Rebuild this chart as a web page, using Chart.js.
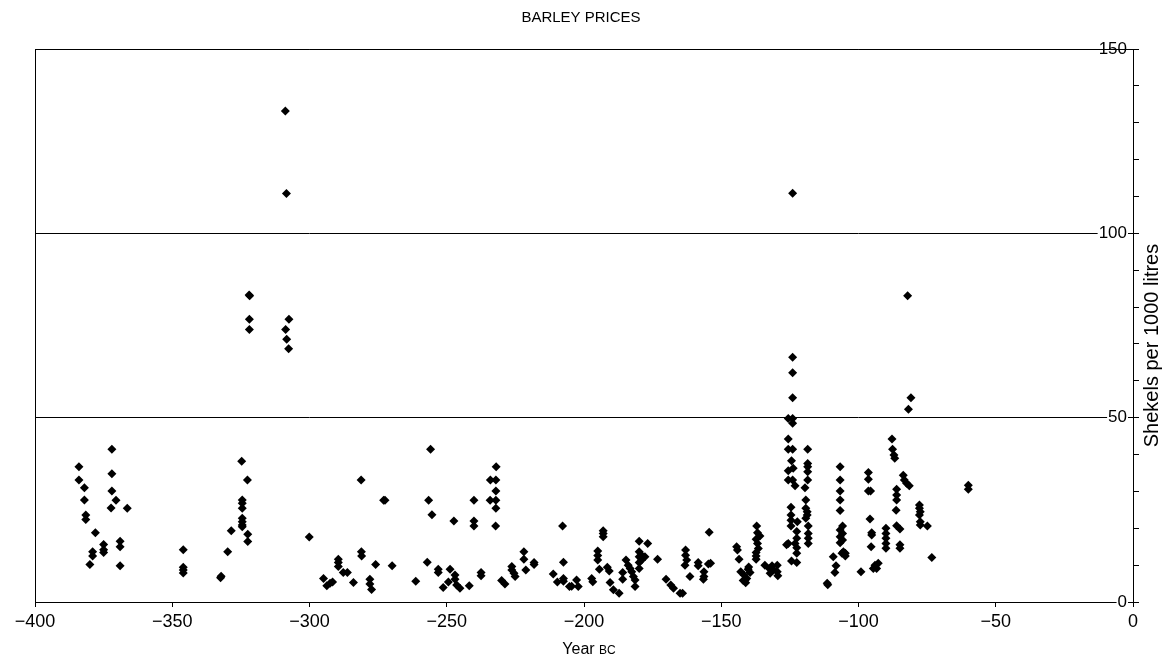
<!DOCTYPE html>
<html>
<head>
<meta charset="utf-8">
<title>Barley prices</title>
<script src="https://cdn.jsdelivr.net/npm/chart.js@4.4.1/dist/chart.umd.min.js"></script>
<style>
  html, body { margin: 0; padding: 0; background: #fff; }
  canvas { display: block; }
</style>
</head>
<body>
<canvas id="chart" width="1162" height="659"></canvas>
<script>
// Barley prices (shekels per 1000 litres), by year BC, grouped by century.
const years4th = [-384,-384,-382,-382,-381.5,-381.5,-378,-379,-379,-380,-375,-375,-375,-372,-372,-372,-370.5,-372.3,-366.4,-369,-369,-369,-346,-346,-346,-346,-332.4,-332.2,-329.8,-328.5,-324.7,-322.6,-324.5,-324.5,-324.5,-324.5,-324.5,-324.5,-324.5,-322.5,-322.5,-321.8,-322,-321.9,-321.9,-308.8,-308.4,-307.5,-308.7,-308.3,-307.6,-300.1];
const prices4th = [36.7,33.1,31.0,27.7,23.6,22.4,18.8,13.6,12.5,10.2,15.6,14.2,13.4,41.4,34.8,30.1,27.6,25.5,25.4,16.5,15.0,9.8,14.2,9.4,8.7,7.9,6.6,7.0,13.6,19.3,38.2,33.1,27.7,26.8,25.4,22.7,21.8,20.9,20.4,18.4,16.4,83.1,83.3,76.7,73.9,133.2,110.8,76.7,73.9,71.3,68.7,17.6];

const years3rd = [-294.9,-293.7,-292.5,-291.6,-289.5,-289.5,-289.5,-287.7,-286.2,-284,-281.2,-281.1,-281,-278,-278,-277.4,-275.9,-273,-272.5,-269.9,-261.3,-255.9,-256.6,-255.4,-257.1,-253.1,-253.1,-251.3,-249.4,-248.8,-247,-247,-246.4,-245.2,-247.4,-241.8,-240.1,-240.1,-240.1,-237.5,-237.5,-234.1,-232.1,-232,-232.1,-234.2,-232.1,-232.1,-232.2,-230,-228.8,-226.3,-226.3,-225.5,-225.1,-221.9,-221.9,-221.2,-218.2,-218.2,-211.2,-209.7,-207.8,-207.5,-207.5,-207.5,-205.3,-204.5,-202.7,-202.1];
const prices3rd = [6.4,4.4,5.1,5.4,11.6,10.7,9.6,8.0,8.0,5.3,33.1,13.6,12.5,6.2,4.9,3.4,10.2,27.6,27.6,9.8,5.6,41.4,27.6,23.7,10.8,8.9,8.0,3.9,5.4,8.9,7.3,6.2,4.6,3.7,22.0,4.4,27.6,22.0,20.6,8.0,7.1,33.1,33.1,36.7,30.1,27.6,27.6,25.4,20.6,5.8,4.9,9.6,8.7,7.8,6.9,13.6,11.6,8.7,10.7,10.2,7.6,5.4,20.6,10.8,6.4,5.6,4.2,4.3,6.0,4.2];

const years2nd = [-197.2,-196.8,-195,-195,-195,-194.4,-193,-193,-193,-191.5,-190.8,-190.5,-189.3,-187.2,-185.9,-185.9,-184.7,-183.9,-183.2,-182.6,-182,-181.4,-181.4,-179.9,-179.9,-179.9,-179.9,-179.9,-179,-179,-177.8,-176.8,-173.2,-170.1,-168.4,-167.4,-165,-164.1,-163,-163,-162.6,-163.2,-161.4,-158.4,-158.4,-156.3,-156.3,-156.5,-154.7,-153.9,-154.4,
  -144.4,-144.1,-143.5,-142.9,-141.7,-140.7,-141.1,-140.2,-139.5,-141.3,-140,-142,
  -137.1,-136.8,-135.9,-137.3,-136.8,-137.3,-137.3,-137.3,-136.5,
  -134.1,-132.5,-132.2,-131,-129.6,-129.6,-129.4,-131.5,
  -124,-124,-124,-124,-125.6,-124,-124,-125.6,-125.6,-124,-124.4,-125.6,-123.8,-125.6,-124,-123.1,-124.6,-124.6,-124.6,-124.6,-122.3,-122.5,-122.5,-123.1,-125.6,-126.2,-122.5,-122.5,-124.4,-122.5,
  -118.5,-118.5,-118.5,-118.5,-118.5,-119.5,-119.2,-119.2,-118.7,-118.7,-119.2,-118.3,-118.3,-118.3,-118.3,
  -111.4,-111.2,-109.2,-108.2,-108.6,
  -106.7,-106.7,-106.7,-106.7,-106.7,-105.8,-106.7,-105.8,-106.7,-105.8,-106.7,-105.5,-104.8,-106,-104.8];
const prices2nd = [6.4,5.5,13.8,12.6,11.4,8.9,19.3,18.6,17.7,9.4,8.4,5.3,3.3,2.4,8.0,6.2,11.4,10.0,9.1,8.2,6.9,6.0,4.2,16.5,13.6,12.3,10.7,9.1,12.7,11.4,12.3,15.9,11.6,6.2,4.6,3.7,2.4,2.4,14.1,12.7,11.4,10.0,6.9,10.7,9.8,8.2,6.9,6.2,10.3,10.5,18.9,
  15.0,14.1,11.6,8.2,7.3,6.4,5.2,8.9,8.0,6.0,9.5,5.8,
  20.6,18.8,17.9,17.0,15.9,13.4,12.5,11.6,14.5,
  10.0,9.1,7.8,8.7,10.0,8.2,7.1,9.8,
  110.9,66.4,62.2,55.4,49.8,49.8,48.5,44.2,41.4,41.4,38.3,35.6,36.3,33.1,33.1,31.5,25.7,23.6,22.2,20.6,21.8,19.1,17.3,15.9,15.9,15.5,14.7,13.2,11.1,10.7,
  41.4,37.6,36.7,35.3,33.1,31.0,27.7,25.4,24.5,23.6,22.7,20.6,18.6,17.3,15.9,
  5.1,4.7,12.3,9.8,8.0,
  36.7,33.1,30.1,27.7,24.8,20.6,19.5,18.6,17.7,16.8,16.1,13.6,13.2,13.2,12.5];

const years1st = [-99.1,-96.4,-96.4,-96.4,-95.6,-95.8,-95.2,-95.2,-95.4,-94.6,-93.4,-92.8,-94,
  -90,-90,-90,-90,-90,
  -87.8,-87.6,-87.1,-86.8,-86.1,-86.1,-86.1,-86.3,-86.1,-84.9,-84.9,-84.9,
  -83.7,-83.3,-82.5,-81.5,-82.1,-80.9,-81.8,
  -77.8,-77.8,-77.5,-77.8,-77.5,-77.5,-74.9,-73.3,-60,-60];
const prices1st = [8.2,35.1,33.3,30.1,30.1,22.5,18.8,18.2,15.0,9.1,9.1,10.5,10.0,
  20.0,18.6,17.3,15.9,14.6,
  44.2,41.4,39.9,39.0,30.6,29.0,27.7,24.9,20.7,19.8,15.5,14.6,
  34.4,33.1,32.2,31.5,83.1,55.4,52.3,
  26.3,25.4,24.5,23.6,21.8,20.9,20.6,12.1,31.7,30.6];

const yearTicks = [-400, -350, -300, -250, -200, -150, -100, -50, 0];
const priceLabels = [0, 50, 100, 150];

const FONT = "'Liberation Sans', Arial, Helvetica, sans-serif";

const points = [];
[[years4th, prices4th], [years3rd, prices3rd], [years2nd, prices2nd], [years1st, prices1st]]
  .forEach(([ys, ps]) => ys.forEach((y, i) => points.push({ x: y, y: ps[i] })));

// Top edge of the plot frame (the other three edges are axis lines).
const frame = {
  id: 'frame',
  beforeDatasetsDraw(chart) {
    const { ctx, chartArea: a } = chart;
    ctx.save();
    ctx.strokeStyle = '#000';
    ctx.lineWidth = 1;
    ctx.beginPath();
    ctx.moveTo(a.left, Math.round(a.top) + 0.5);
    ctx.lineTo(a.right, Math.round(a.top) + 0.5);
    ctx.stroke();
    ctx.restore();
  }
};

// Axis titles: "Year BC" with small-caps era, and the rotated price title.
const axisTitles = {
  id: 'axisTitles',
  afterDraw(chart) {
    const { ctx, chartArea: a } = chart;
    const xs = chart.scales.x, ys = chart.scales.y;
    ctx.save();
    ctx.fillStyle = '#000';
    ctx.textBaseline = 'alphabetic';
    const big = '16px ' + FONT, small = '12px ' + FONT;
    ctx.font = big; const w1 = ctx.measureText('Year ').width;
    ctx.font = small; const w2 = ctx.measureText('BC').width;
    const cx = (a.left + a.right) / 2 + 5;
    const by = xs.bottom - 5;
    const x0 = cx - (w1 + w2) / 2;
    ctx.textAlign = 'left';
    ctx.font = big; ctx.fillText('Year ', x0, by);
    ctx.font = small; ctx.fillText('BC', x0 + w1, by);

    ctx.translate(ys.right - 10, (a.top + a.bottom) / 2 + 20);
    ctx.rotate(-Math.PI / 2);
    ctx.font = '20px ' + FONT;
    ctx.textAlign = 'center';
    ctx.textBaseline = 'middle';
    ctx.fillText('Shekels per 1000 litres', 0, 0);
    ctx.restore();
  }
};

const minus = v => (v < 0 ? '\u2212' + Math.abs(v) : String(v));

new Chart(document.getElementById('chart'), {
  type: 'scatter',
  data: {
    datasets: [{
      data: points,
      pointStyle: 'rectRot',
      radius: 4.5,
      backgroundColor: '#000',
      borderColor: '#000',
      borderWidth: 0
    }]
  },
  options: {
    responsive: false,
    animation: false,
    devicePixelRatio: 1,
    events: [],
    layout: { padding: 0 },
    plugins: {
      legend: { display: false },
      tooltip: { enabled: false },
      title: {
        display: true,
        text: 'BARLEY PRICES',
        color: '#000',
        font: { family: FONT, size: 15, weight: 'normal' },
        padding: { top: 9, bottom: 22 }
      }
    },
    scales: {
      x: {
        type: 'linear',
        position: 'bottom',
        min: -400,
        max: 0,
        afterBuildTicks: s => { s.ticks = yearTicks.map(v => ({ value: v })); },
        afterFit: s => { s.height = 57; },
        border: { display: true, color: '#000', width: 1 },
        grid: { drawOnChartArea: false, drawTicks: true, tickLength: 5, tickColor: '#000' },
        ticks: {
          color: '#000',
          font: { family: FONT, size: 18 },
          padding: 4,
          maxRotation: 0,
          callback: v => minus(v)
        }
      },
      frameLeft: {
        type: 'linear',
        position: 'left',
        min: 0,
        max: 150,
        afterFit: s => { s.width = 35; },
        border: { display: true, color: '#000', width: 1 },
        grid: { display: false, drawTicks: false },
        ticks: { display: false }
      },
      y: {
        type: 'linear',
        position: 'right',
        min: 0,
        max: 150,
        afterFit: s => { s.width = 29; },
        border: { display: true, color: '#000', width: 1 },
        grid: {
          drawOnChartArea: true,
          drawTicks: true,
          tickLength: 6,
          tickColor: '#000',
          color: c => (priceLabels.includes(c.tick && c.tick.value) ? '#000' : 'rgba(0,0,0,0)')
        },
        ticks: {
          stepSize: 10,
          mirror: true,
          padding: -6,
          color: '#000',
          font: { family: FONT, size: 17 },
          showLabelBackdrop: true,
          backdropColor: '#fff',
          backdropPadding: { x: 1, y: 0 },
          callback: v => (priceLabels.includes(v) ? String(v) : '')
        }
      }
    }
  },
  plugins: [frame, axisTitles]
});
</script>
</body>
</html>
